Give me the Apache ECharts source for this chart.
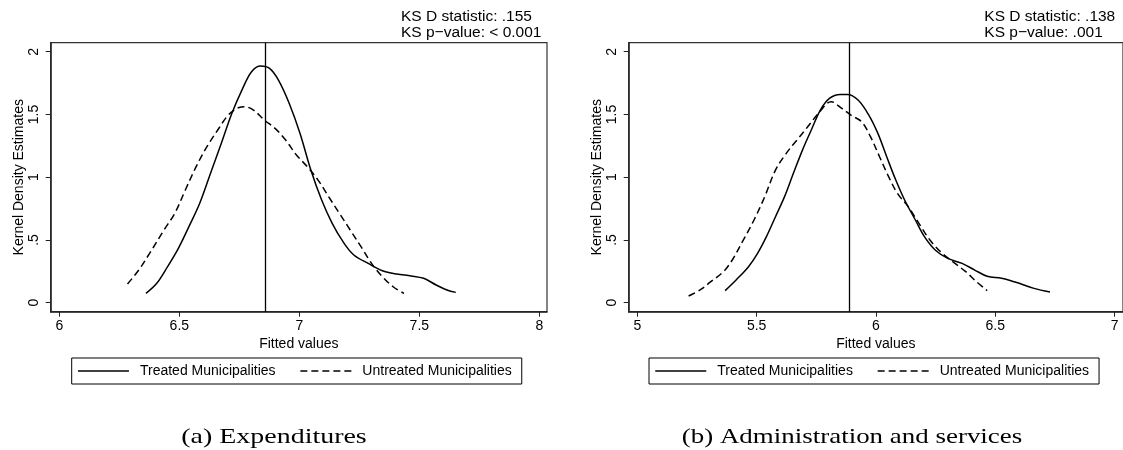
<!DOCTYPE html>
<html>
<head>
<meta charset="utf-8">
<script src="https://cdn.jsdelivr.net/npm/echarts@6/dist/echarts.min.js"></script>
<style>
html,body{margin:0;padding:0;background:#fff;}
#c{width:1123px;height:450px;}
</style>
</head>
<body>
<div id="c"></div>
<script>
// ---- Data ----
const seriesNames = ['Treated Municipalities', 'Untreated Municipalities'];
const xTicksA = [6, 6.5, 7, 7.5, 8];
const xTicksB = [5, 5.5, 6, 6.5, 7];
const yTicks = [0, 0.5, 1, 1.5, 2];
const yTickLabels = ['0', '.5', '1', '1.5', '2'];
const xTickLabelsA = ['6', '6.5', '7', '7.5', '8'];
const xTickLabelsB = ['5', '5.5', '6', '6.5', '7'];

// Panel (a) Expenditures
const aTreatedX = [6.361, 6.406, 6.451, 6.496, 6.540, 6.585, 6.630, 6.675, 6.719, 6.764, 6.801, 6.839, 6.876, 6.913, 6.958, 7.003, 7.048, 7.093, 7.137, 7.182, 7.227, 7.287, 7.346, 7.406, 7.466, 7.518, 7.570, 7.615, 7.652];
const aTreatedY = [0.074, 0.154, 0.287, 0.433, 0.606, 0.792, 1.031, 1.270, 1.509, 1.708, 1.841, 1.886, 1.867, 1.774, 1.588, 1.349, 1.057, 0.818, 0.632, 0.486, 0.380, 0.313, 0.255, 0.228, 0.213, 0.194, 0.141, 0.101, 0.082];
const aUntreatedX = [6.284, 6.331, 6.376, 6.436, 6.481, 6.525, 6.570, 6.615, 6.660, 6.704, 6.749, 6.772, 6.809, 6.854, 6.899, 6.943, 6.988, 7.033, 7.078, 7.122, 7.167, 7.212, 7.257, 7.301, 7.346, 7.391, 7.436];
const aUntreatedY = [0.149, 0.260, 0.393, 0.579, 0.712, 0.898, 1.084, 1.243, 1.376, 1.495, 1.556, 1.562, 1.535, 1.456, 1.389, 1.296, 1.177, 1.084, 0.977, 0.845, 0.712, 0.579, 0.446, 0.313, 0.207, 0.127, 0.074];
const aVLine = 6.864;
const aKS = ['KS D statistic: .155', 'KS p\u2212value: < 0.001'];
const aCaption = '(a) Expenditures';

// Panel (b) Administration and services
const bTreatedX = [5.368, 5.414, 5.466, 5.504, 5.541, 5.579, 5.617, 5.654, 5.692, 5.729, 5.767, 5.805, 5.850, 5.880, 5.925, 5.970, 6.008, 6.045, 6.083, 6.120, 6.165, 6.203, 6.248, 6.301, 6.361, 6.414, 6.466, 6.526, 6.586, 6.662, 6.729];
const bTreatedY = [0.096, 0.181, 0.287, 0.393, 0.526, 0.685, 0.845, 1.031, 1.216, 1.376, 1.535, 1.628, 1.660, 1.660, 1.615, 1.495, 1.349, 1.163, 0.977, 0.818, 0.659, 0.526, 0.420, 0.353, 0.313, 0.260, 0.210, 0.194, 0.162, 0.114, 0.085];
const bUntreatedX = [5.215, 5.263, 5.308, 5.361, 5.398, 5.444, 5.489, 5.534, 5.579, 5.624, 5.669, 5.714, 5.759, 5.812, 5.857, 5.895, 5.940, 5.977, 6.015, 6.053, 6.090, 6.135, 6.180, 6.226, 6.278, 6.331, 6.376, 6.421, 6.466];
const bUntreatedY = [0.053, 0.101, 0.167, 0.247, 0.340, 0.499, 0.659, 0.845, 1.057, 1.190, 1.296, 1.402, 1.509, 1.602, 1.548, 1.495, 1.442, 1.323, 1.163, 1.004, 0.871, 0.765, 0.632, 0.499, 0.393, 0.313, 0.247, 0.167, 0.096];
const bVLine = 5.895;
const bKS = ['KS D statistic: .138', 'KS p\u2212value: .001'];
const bCaption = '(b) Administration and services';

// ---- Build chart ----
const zip = (xs, ys) => xs.map((x, i) => [x, ys[i]]);
const SANS = '"Liberation Sans", Arial, Helvetica, sans-serif';
const SERIF = '"Liberation Serif", "Times New Roman", serif';
const INK = '#000';

function xAxisFor(gridIndex, min, max, ticks, labels) {
  return {
    type: 'value', gridIndex, min, max,
    name: 'Fitted values', nameLocation: 'middle', nameGap: 21,
    nameTextStyle: { fontFamily: SANS, fontSize: 14, color: INK },
    axisLine: { show: true, onZero: false, lineStyle: { color: '#222', width: 1.5 } },
    axisTick: { show: true, length: 5, customValues: ticks, lineStyle: { color: '#222', width: 1 } },
    axisLabel: { customValues: ticks, margin: 7, fontFamily: SANS, fontSize: 14, color: INK,
      formatter: v => labels[ticks.findIndex(t => Math.abs(t - v) < 1e-9)] },
    splitLine: { show: false }
  };
}
function yAxisFor(gridIndex) {
  return {
    type: 'value', gridIndex, min: -0.072, max: 2.072,
    name: 'Kernel Density Estimates', nameLocation: 'middle', nameGap: 18,
    nameTextStyle: { fontFamily: SANS, fontSize: 14, color: INK },
    axisLine: { show: true, onZero: false, lineStyle: { color: '#222', width: 1.5 } },
    axisTick: { show: true, length: 5, customValues: yTicks, lineStyle: { color: '#222', width: 1 } },
    axisLabel: { customValues: yTicks, rotate: 90, margin: 10, fontFamily: SANS, fontSize: 14, color: INK,
      formatter: v => yTickLabels[yTicks.findIndex(t => Math.abs(t - v) < 1e-9)] },
    splitLine: { show: false }
  };
}
function curve(name, data, xi, dashed, vline) {
  const s = {
    name, type: 'line', data, xAxisIndex: xi, yAxisIndex: xi,
    symbol: 'none', smooth: 0.35, silent: true, animation: false,
    lineStyle: { color: INK, width: 1.5, type: dashed ? [7, 4] : 'solid' },
    itemStyle: { color: INK }
  };
  if (vline !== undefined) {
    s.markLine = {
      silent: true, symbol: ['none', 'none'], animation: false,
      label: { show: false },
      lineStyle: { color: INK, width: 1.3, type: 'solid' },
      data: [{ xAxis: vline }]
    };
  }
  return s;
}
function legendFor(left) {
  return {
    data: seriesNames, left, top: 358, orient: 'horizontal',
    itemWidth: 51, itemHeight: 14, itemGap: 24,
    padding: [6, 10, 6, 5.5],
    borderColor: '#000', borderWidth: 1, backgroundColor: '#fff',
    itemStyle: { opacity: 0, borderWidth: 0 },
    lineStyle: { opacity: 1, width: 1.5 },
    textStyle: { fontFamily: SANS, fontSize: 14, color: INK, padding: [0, 0, 0, 6] },
    selectedMode: false
  };
}
function ksText(left, lines) {
  return lines.map((t, i) => ({
    type: 'text', left, top: 8.5 + i * 16.7,
    style: { text: t, fontFamily: SANS, fontSize: 15.5, fill: INK }
  }));
}
function caption(cx, text, sx) {
  return {
    type: 'text', x: cx, y: 437, scaleX: sx, scaleY: 1,
    style: { text, fontFamily: SERIF, fontSize: 22, fill: INK, align: 'center', verticalAlign: 'middle' }
  };
}

const chart = echarts.init(document.getElementById('c'), null, { renderer: 'canvas' });
chart.setOption({
  animation: false,
  backgroundColor: '#fff',
  grid: [
    { left: 50.7, top: 42.7, width: 496.3, height: 269, show: true, borderColor: '#333', borderWidth: 1.2, backgroundColor: 'transparent' },
    { left: 628.7, top: 42.7, width: 495, height: 269, show: true, borderColor: '#333', borderWidth: 1.2, backgroundColor: 'transparent' }
  ],
  xAxis: [
    xAxisFor(0, 5.964, 8.032, xTicksA, xTickLabelsA),
    xAxisFor(1, 4.964, 7.035, xTicksB, xTickLabelsB)
  ],
  yAxis: [yAxisFor(0), yAxisFor(1)],
  legend: [legendFor(71.7), legendFor(649)],
  series: [
    curve(seriesNames[0], zip(aTreatedX, aTreatedY), 0, false, aVLine),
    curve(seriesNames[1], zip(aUntreatedX, aUntreatedY), 0, true),
    curve(seriesNames[0], zip(bTreatedX, bTreatedY), 1, false, bVLine),
    curve(seriesNames[1], zip(bUntreatedX, bUntreatedY), 1, true)
  ],
  graphic: [
    ...ksText(401, aKS),
    ...ksText(984.3, bKS),
    caption(274, aCaption, 1.27),
    caption(852, bCaption, 1.225)
  ]
});
</script>
</body>
</html>
